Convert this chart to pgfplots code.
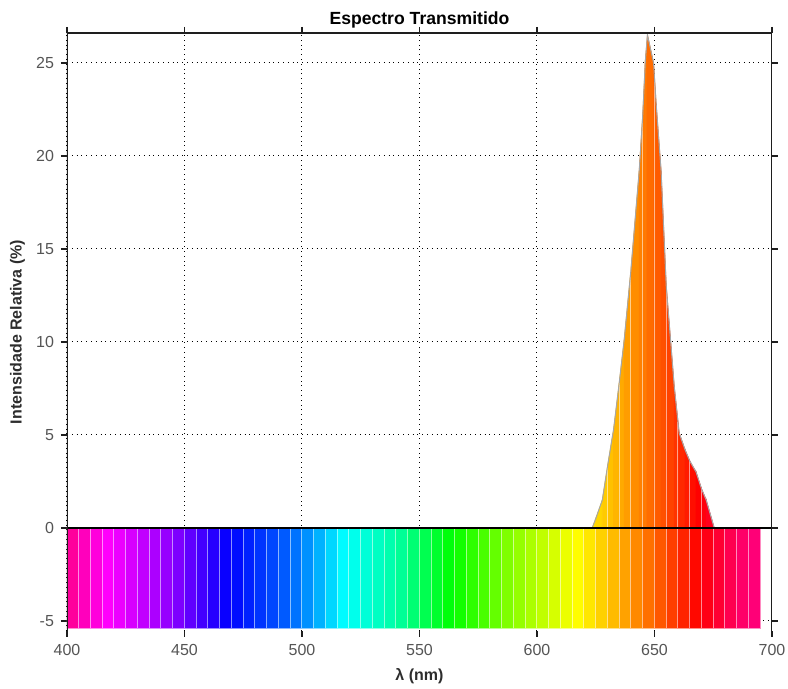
\documentclass[border=0pt]{standalone}
\usepackage{fontspec}
\setmainfont{Liberation Sans}
\usepackage{pgfplots}
\pgfplotsset{compat=1.18}
\definecolor{ticklab}{RGB}{85,85,85}
\definecolor{axlab}{RGB}{45,45,45}
\definecolor{spine}{RGB}{30,30,30}
\begin{document}
\begin{tikzpicture}
\begin{axis}[
  scale only axis, width=352.5pt, height=299pt,
  xmin=400, xmax=700, ymin=-5.54, ymax=26.61,
  xtick={400,450,500,550,600,650,700}, xticklabels={400,450,500,550,600,650,700},
  ytick={-5,0,5,10,15,20,25}, yticklabels={-5,0,5,10,15,20,25},
  tick align=outside, major tick length=3pt,
  tick style={spine, line width=0.9pt},
  axis line style={draw=none},
  grid=major, grid style={black, dotted, line width=0.5pt},
  ticklabel style={font=\fontsize{8}{9.6}\selectfont, text=ticklab},
  xlabel={\textbf{λ (nm)}}, ylabel={\textbf{Intensidade Relativa (\%)}},
  label style={font=\fontsize{8}{9.6}\selectfont, text=axlab},
  xlabel style={at={(axis description cs:0.5,-0.0761)}, anchor=center},
  ylabel style={at={(axis description cs:-0.0702,0.5)}, anchor=center},
  title={\textbf{Espectro Transmitido}},
  title style={font=\fontsize{8.8}{10}\selectfont, at={(axis description cs:0.5,1.015)}, anchor=base, yshift=-6pt},
  point meta min=400, point meta max=700,
  colormap={spec}{rgb255(400pt)=(255,0,140) rgb255(418pt)=(255,0,255) rgb255(445pt)=(140,0,255)
    rgb255(469pt)=(0,0,255) rgb255(495pt)=(0,100,255) rgb255(505pt)=(0,160,255) rgb255(518pt)=(0,255,255)
    rgb255(541pt)=(0,255,160) rgb255(564pt)=(0,255,0) rgb255(588pt)=(130,255,0) rgb255(617pt)=(255,255,0)
    rgb255(632pt)=(255,190,0) rgb255(646pt)=(255,120,0) rgb255(658pt)=(255,60,0) rgb255(669pt)=(255,0,0)
    rgb255(686pt)=(255,0,100) rgb255(700pt)=(255,0,140)},
]
% spectrum band
\addplot[surf, shader=faceted, faceted color=mapped color!45!white, line width=0.5pt, mesh/rows=2, point meta=x] coordinates {
(400,-5.38) (405,-5.38) (410,-5.38) (415,-5.38) (420,-5.38) (425,-5.38) (430,-5.38) (435,-5.38) (440,-5.38) (445,-5.38)
(450,-5.38) (455,-5.38) (460,-5.38) (465,-5.38) (470,-5.38) (475,-5.38) (480,-5.38) (485,-5.38) (490,-5.38) (495,-5.38)
(500,-5.38) (505,-5.38) (510,-5.38) (515,-5.38) (520,-5.38) (525,-5.38) (530,-5.38) (535,-5.38) (540,-5.38) (545,-5.38)
(550,-5.38) (555,-5.38) (560,-5.38) (565,-5.38) (570,-5.38) (575,-5.38) (580,-5.38) (585,-5.38) (590,-5.38) (595,-5.38)
(600,-5.38) (605,-5.38) (610,-5.38) (615,-5.38) (620,-5.38) (625,-5.38) (630,-5.38) (635,-5.38) (640,-5.38) (645,-5.38)
(650,-5.38) (655,-5.38) (660,-5.38) (665,-5.38) (670,-5.38) (675,-5.38) (680,-5.38) (685,-5.38) (690,-5.38) (695,-5.38)
(400,0) (405,0) (410,0) (415,0) (420,0) (425,0) (430,0) (435,0) (440,0) (445,0)
(450,0) (455,0) (460,0) (465,0) (470,0) (475,0) (480,0) (485,0) (490,0) (495,0)
(500,0) (505,0) (510,0) (515,0) (520,0) (525,0) (530,0) (535,0) (540,0) (545,0)
(550,0) (555,0) (560,0) (565,0) (570,0) (575,0) (580,0) (585,0) (590,0) (595,0)
(600,0) (605,0) (610,0) (615,0) (620,0) (625,0) (630,0) (635,0) (640,0) (645,0)
(650,0) (655,0) (660,0) (665,0) (670,0) (675,0) (680,0) (685,0) (690,0) (695,0)
};
% transmitted spectrum
\addplot[surf, shader=flat mean, mesh/rows=2, point meta=x] coordinates {
(623.5,0) (625,0) (627.8,0) (630,0) (632.6,0) (635,0) (637.1,0) (640,0) (643.5,0) (645,0) (646.1,0) (647,0)
(649.6,0) (650.7,0) (652.8,0) (655,0) (658.4,0) (660.5,0) (663,0) (665,0) (667.7,0) (670,0) (672,0) (675.4,0)
(623.5,0) (625,0.5) (627.8,1.5) (630,3.3) (632.6,5.3) (635,7.8) (637.1,10.1) (640,13.9) (643.5,19.2) (645,22.2) (646.1,25.1) (647,26.5)
(649.6,25.0) (650.7,22.8) (652.8,19.2) (655,13.0) (658.4,7.6) (660.5,5.1) (663,4.2) (665,3.6) (667.7,3.0) (670,2.1) (672,1.5) (675.4,0)
};
\addplot[ycomb, white, opacity=0.55, line width=0.5pt] coordinates {
(630,3.3) (635,7.8) (640,13.9) (645,22.2) (650,24.2) (655,13.0) (660,5.7) (665,3.6) (670,2.1)
};
\addplot[gray!70, line width=0.5pt] coordinates {
(623.5,0) (625,0.5) (627.8,1.5) (630,3.3) (632.6,5.3) (635,7.8) (637.1,10.1) (640,13.9) (643.5,19.2) (645,22.2) (646.1,25.1) (647,26.5)
(649.6,25.0) (650.7,22.8) (652.8,19.2) (655,13.0) (658.4,7.6) (660.5,5.1) (663,4.2) (665,3.6) (667.7,3.0) (670,2.1) (672,1.5) (675.4,0)
};
\draw[black, line width=1.3pt] (axis cs:400,0) -- (axis cs:700,0);
\draw[spine, line width=1pt] (rel axis cs:0,0) -- (rel axis cs:0,1) -- (rel axis cs:1,1) -- (rel axis cs:1,0);
\end{axis}
\pgfresetboundingbox
\path[use as bounding box] (-33.5pt,-29pt) rectangle (360.5pt,315.5pt);
\end{tikzpicture}
\end{document}
